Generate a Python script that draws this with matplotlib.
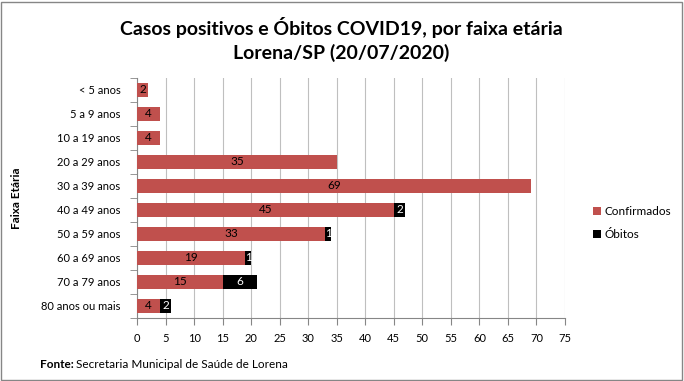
import numpy as np
import matplotlib.pyplot as plt
from matplotlib.patches import Rectangle

plt.rcParams['font.family'] = ['Lato', 'DejaVu Sans']

faixas = ["< 5 anos", "5 a 9 anos", "10 a 19 anos", "20 a 29 anos", "30 a 39 anos",
          "40 a 49 anos", "50 a 59 anos", "60 a 69 anos", "70 a 79 anos", "80 anos ou mais"]
confirmados = [2, 4, 4, 35, 69, 45, 33, 19, 15, 4]
obitos = [0, 0, 0, 0, 0, 2, 1, 1, 6, 2]

red = "#C0504D"

fig = plt.figure(figsize=(6.84, 3.81), dpi=100)
ax = fig.add_axes([137 / 684, 1 - 318 / 381, 428 / 684, 240 / 381])

y = np.arange(len(faixas))
conf = np.array(confirmados)
obit = np.array(obitos)

ax.barh(y, conf, height=0.6, color=red, label="Confirmados", zorder=3)
ax.barh(y, obit, left=conf, height=0.6, color="black", label="Óbitos", zorder=3)

# value labels
for i in range(len(faixas)):
    ax.text(conf[i] / 2, y[i], str(conf[i]), ha="center", va="center",
            fontsize=8.5, color="black", zorder=4)
    if obit[i] > 0:
        ax.text(conf[i] + obit[i] / 2, y[i], str(obit[i]), ha="center", va="center",
                fontsize=8.5, color="white", zorder=4)

ax.set_xlim(0, 75)
ax.set_ylim(len(faixas) - 0.5, -0.5)
ax.set_xticks(np.arange(0, 76, 5))
ax.set_yticks(y)
ax.set_yticklabels(faixas)
ax.set_yticks(np.arange(-0.5, len(faixas), 1), minor=True)
ax.tick_params(axis="y", which="major", length=0, labelsize=8, pad=12)
ax.tick_params(axis="y", which="minor", length=5, color="#868686")
ax.tick_params(axis="x", length=5, color="#868686", labelsize=8, pad=6)
ax.xaxis.grid(True, color="#BFBFBF", linewidth=0.8, zorder=0)

for side in ["top", "right"]:
    ax.spines[side].set_visible(False)
for side in ["left", "bottom"]:
    ax.spines[side].set_color("#868686")

ax.set_ylabel("Faixa Etária", fontsize=8.5, fontweight="bold", labelpad=14)

fig.text(341 / 684, 1 - 28 / 381, "Casos positivos e Óbitos COVID19, por faixa etária",
         ha="center", va="center", fontsize=14, fontweight="bold")
fig.text(341 / 684, 1 - 53 / 381, "Lorena/SP (20/07/2020)",
         ha="center", va="center", fontsize=14, fontweight="bold")

fig.legend(loc="center left", bbox_to_anchor=(582 / 684, 1 - 223 / 381), frameon=False,
           fontsize=8.5, handlelength=0.7, handleheight=0.7, handletextpad=0.3, labelspacing=1.0)

# source note: bold label followed by plain text
fonte = fig.text(40 / 684, 1 - 365 / 381, "Fonte:", fontsize=8.5, fontweight="bold", va="center")
fig.canvas.draw()
bb = fonte.get_window_extent()
fig.text((bb.x1 + 2) / 684, 1 - 365 / 381, "Secretaria Municipal de Saúde de Lorena",
         fontsize=8.5, va="center")

fig.patches.append(Rectangle((0.002, 0.003), 0.995, 0.993, transform=fig.transFigure,
                             fill=False, edgecolor="#868686", linewidth=1))

fig.savefig("out.png", dpi=100)
